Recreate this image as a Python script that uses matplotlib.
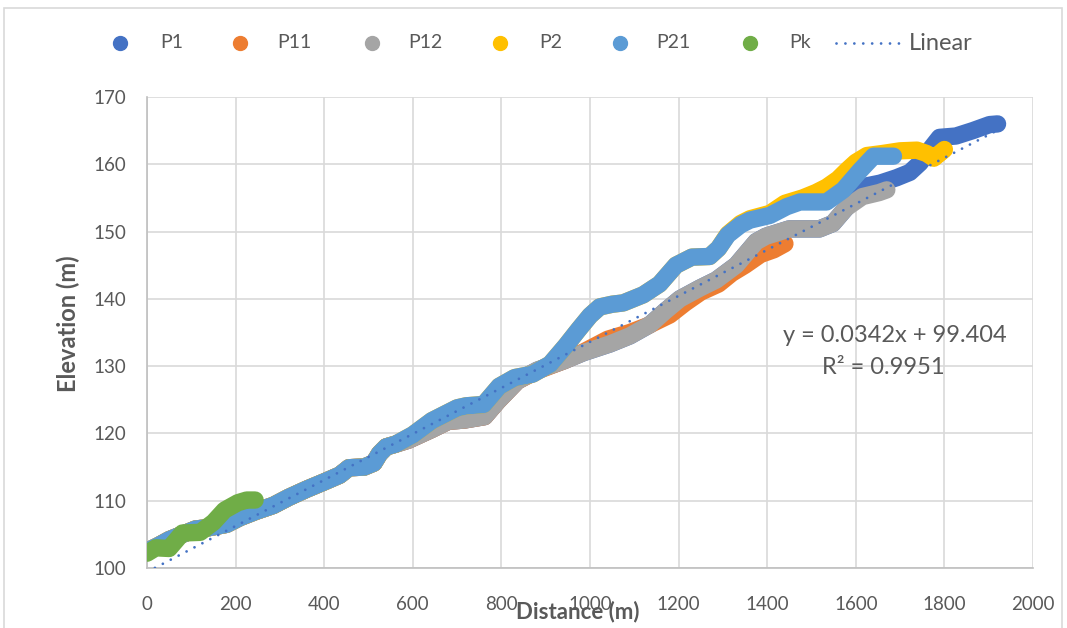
import matplotlib
matplotlib.use("Agg")
import matplotlib.pyplot as plt
from matplotlib.lines import Line2D
from matplotlib.patches import Rectangle
import numpy as np

# ---------------- data ----------------
p1_d = [0, 25, 50, 80, 110, 140, 180, 210, 245, 285, 320, 360, 400, 435, 456, 490, 512, 525,
        540, 561, 590, 610, 643, 680, 717, 762, 792, 836, 881, 941, 985, 1045, 1090, 1136,
        1170, 1203, 1248, 1285, 1330, 1375, 1397, 1450, 1518, 1548, 1578, 1600, 1625, 1655,
        1692, 1722, 1745, 1765, 1789, 1826, 1864, 1902, 1920]
p1_e = [102.5, 103.3, 104.2, 105.0, 105.8, 106.0, 106.5, 107.5, 108.4, 109.3, 110.5, 111.7,
        112.8, 113.8, 114.9, 115.0, 115.6, 117.0, 118.0, 118.4, 119.0, 119.6, 120.6, 121.8,
        122.0, 122.5, 124.8, 127.8, 129.4, 130.8, 132.0, 133.3, 134.5, 136.2, 138.2, 140.0,
        141.6, 142.8, 145.0, 148.5, 149.3, 150.4, 150.4, 151.2, 153.5, 155.3, 156.8, 157.2,
        158.0, 158.8, 160.2, 162.0, 164.0, 164.2, 165.0, 165.9, 166.0]

p11_d = [0, 25, 50, 80, 110, 140, 180, 210, 245, 285, 320, 360, 400, 435, 456, 490, 512, 525,
         540, 561, 590, 610, 643, 680, 717, 762, 792, 836, 881, 941, 985, 1040, 1090, 1130,
         1180, 1215, 1250, 1290, 1320, 1350, 1385, 1415, 1440]
p11_e = [102.5, 103.3, 104.2, 105.0, 105.8, 106.0, 106.5, 107.5, 108.4, 109.3, 110.5, 111.7,
         112.8, 113.8, 114.9, 115.0, 115.6, 117.0, 118.0, 118.4, 119.0, 119.6, 120.6, 121.8,
         122.0, 122.5, 124.8, 127.8, 129.3, 130.8, 132.1, 134.0, 135.0, 136.0, 137.6, 139.4,
         141.0, 142.2, 143.8, 145.0, 146.6, 147.3, 148.2]

p12_d = [0, 25, 50, 80, 110, 140, 180, 210, 245, 285, 320, 360, 400, 435, 456, 490, 512, 525,
         540, 561, 590, 610, 643, 680, 717, 762, 792, 836, 881, 941, 985, 1045, 1090, 1136,
         1170, 1203, 1248, 1285, 1330, 1375, 1397, 1450, 1518, 1548, 1578, 1615, 1653, 1670]
p12_e = [102.5, 103.3, 104.2, 105.0, 105.8, 106.0, 106.5, 107.5, 108.4, 109.3, 110.5, 111.7,
         112.8, 113.8, 114.9, 115.0, 115.6, 117.0, 118.0, 118.4, 119.0, 119.6, 120.6, 121.8,
         122.0, 122.5, 124.8, 127.8, 129.4, 130.8, 132.0, 133.3, 134.5, 136.2, 138.2, 140.0,
         141.6, 142.8, 145.0, 148.5, 149.3, 150.4, 150.4, 151.2, 153.5, 155.2, 155.8, 156.2]

p2_d = [0, 25, 50, 80, 110, 140, 180, 210, 245, 285, 320, 360, 400, 435, 456, 490, 512, 525,
        540, 561, 600, 643, 670, 700, 720, 760, 795, 830, 870, 910, 945, 975, 1000, 1022, 1050,
        1075, 1120, 1157, 1194, 1230, 1270, 1290, 1311, 1340, 1361, 1406, 1440, 1480, 1510,
        1534, 1560, 1580, 1600, 1625, 1660, 1700, 1738, 1760, 1776, 1800]
p2_e = [102.5, 103.3, 104.2, 105.0, 105.8, 106.0, 106.5, 107.5, 108.4, 109.3, 110.5, 111.7,
        112.8, 113.8, 114.9, 115.0, 115.6, 117.0, 118.0, 118.4, 119.8, 121.9, 122.8, 123.8,
        124.1, 124.3, 127.0, 128.3, 128.8, 130.3, 133.0, 135.5, 137.5, 138.8, 139.2, 139.4,
        140.6, 142.2, 145.0, 146.2, 146.3, 147.5, 149.6, 151.2, 151.9, 152.7, 154.2, 155.0,
        155.8, 156.6, 157.8, 159.1, 160.3, 161.3, 161.6, 162.0, 162.1, 161.6, 160.9, 162.2]

p21_d = [0, 25, 50, 80, 110, 140, 180, 210, 245, 285, 320, 360, 400, 435, 456, 490, 512, 525,
         540, 561, 600, 643, 670, 700, 720, 760, 795, 830, 870, 910, 945, 975, 1000, 1022, 1050,
         1075, 1120, 1157, 1194, 1230, 1270, 1290, 1311, 1340, 1361, 1406, 1444, 1474, 1534,
         1572, 1610, 1640, 1685]
p21_e = [102.5, 103.3, 104.2, 105.0, 105.8, 106.0, 106.5, 107.5, 108.4, 109.3, 110.5, 111.7,
         112.8, 113.8, 114.9, 115.0, 115.6, 117.0, 118.0, 118.4, 119.8, 121.9, 122.8, 123.8,
         124.1, 124.3, 127.0, 128.3, 128.8, 130.3, 133.0, 135.5, 137.5, 138.8, 139.2, 139.4,
         140.6, 142.2, 145.0, 146.2, 146.3, 147.5, 149.5, 151.0, 151.7, 152.4, 153.7, 154.4,
         154.4, 156.2, 159.1, 161.2, 161.2]

pk_d = [0, 20, 50, 80, 120, 150, 175, 205, 225, 244]
pk_e = [102.2, 103.0, 102.9, 105.2, 105.3, 106.8, 108.6, 109.7, 110.1, 110.1]

series_names = ["P1", "P11", "P12", "P2", "P21", "Pk"]
series_colors = ["#4472C4", "#ED7D31", "#A5A5A5", "#FFC000", "#5B9BD5", "#70AD47"]

trend_slope = 0.0342
trend_intercept = 99.404
trend_text = "y = 0.0342x + 99.404"
r2_text = "R² = 0.9951"

x_ticks = [0, 200, 400, 600, 800, 1000, 1200, 1400, 1600, 1800, 2000]
y_ticks = [100, 110, 120, 130, 140, 150, 160, 170]

# ---------------- figure ----------------
W, H = 1067, 628
fig = plt.figure(figsize=(W / 100, H / 100), dpi=100)
plt.rcParams['font.family'] = ['Lato', 'DejaVu Sans']
TXT = "#595959"
GRID = "#D9D9D9"

ax = fig.add_axes([147 / W, 1 - 568 / H, (1033 - 147) / W, (568 - 97) / H])

all_d = [p1_d, p11_d, p12_d, p2_d, p21_d, pk_d]
all_e = [p1_e, p11_e, p12_e, p2_e, p21_e, pk_e]
band = 12.5
for i, (d, e, c) in enumerate(zip(all_d, all_e, series_colors)):
    ax.plot(d, e, '-', color=c, lw=band, solid_capstyle='round',
            solid_joinstyle='round', zorder=3 + i)

# trendline
xmin = min(min(d) for d in all_d)
xmax = max(max(d) for d in all_d)
tx = np.array([xmin, xmax])
ax.plot(tx, trend_slope * tx + trend_intercept, color="#4472C4", lw=2.0,
        linestyle=(0, (0.01, 3.2)), dash_capstyle='round', zorder=20)

ax.set_xlim(0, 2000)
ax.set_ylim(100, 170)
ax.set_xticks(x_ticks)
ax.set_yticks(y_ticks)
ax.grid(True, color=GRID, lw=1.2, zorder=0)
ax.set_axisbelow(True)
for s in ["top", "right"]:
    ax.spines[s].set_visible(False)
for s in ["left", "bottom"]:
    ax.spines[s].set_color("#BFBFBF")
    ax.spines[s].set_linewidth(1.2)
ax.tick_params(length=0, labelsize=13.5, labelcolor=TXT)
ax.tick_params(axis='x', pad=20)
ax.tick_params(axis='y', pad=15)

# axis titles
fig.text(578 / W, 1 - 612 / H, "Distance (m)", ha='center', va='center',
         fontsize=16, fontweight='bold', color=TXT)
fig.text(68 / W, 1 - 324 / H, "Elevation (m)", ha='center', va='center',
         rotation=90, fontsize=17, fontweight='bold', color=TXT)

# equation
fig.text(895 / W, 1 - 336 / H, trend_text, ha='center', va='center',
         fontsize=17, color=TXT, zorder=25)
fig.text(883 / W, 1 - 368 / H, r2_text, ha='center', va='center',
         fontsize=17, color=TXT, zorder=25)

# legend (manual)
leg_y = 1 - 43 / H
marker_x = [120, 240, 372, 500, 620, 750]
label_x = [160, 277, 408, 539, 656, 789]
for mx, lx, c, n in zip(marker_x, label_x, series_colors, series_names):
    fig.add_artist(Line2D([mx / W], [leg_y], marker='o', ms=10, color=c, ls='',
                          transform=fig.transFigure))
    fig.text(lx / W, leg_y, n, ha='left', va='center', fontsize=14,
             color=TXT, family=['Liberation Sans Narrow', 'Lato', 'DejaVu Sans'])
fig.add_artist(Line2D([836 / W, 900 / W], [leg_y, leg_y], color="#4472C4", lw=2.0,
                      linestyle=(0, (0.01, 3.2)), dash_capstyle='round',
                      transform=fig.transFigure))
fig.text(909 / W, leg_y, "Linear", ha='left', va='center', fontsize=17, color=TXT)

# chart area border
fig.add_artist(Rectangle((4 / W, -0.1), (1062 - 4) / W, 1.1 - 8 / H,
                         transform=fig.transFigure, fill=False,
                         edgecolor="#D9D9D9", lw=1.2))

fig.savefig("out.png", dpi=100)
